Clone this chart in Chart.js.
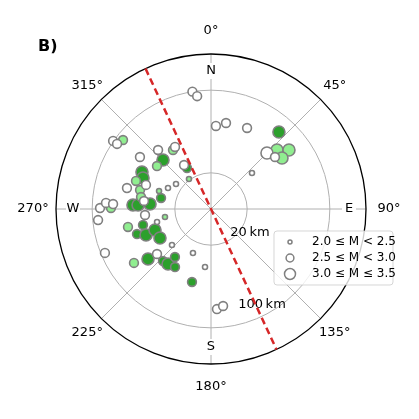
<!DOCTYPE html>
<html>
<head>
<meta charset="utf-8">
<script src="https://cdn.jsdelivr.net/npm/chart.js@4"></script>
<style>
  html, body { margin: 0; padding: 0; background: #fff; }
  #wrap { width: 419px; height: 419px; }
</style>
</head>
<body>
<div id="wrap"><canvas id="polarChart" width="419" height="419"></canvas></div>
<script>
// Datos de los sismos: azimut (grados desde el N), distancia (km), magnitud, grupo
const azimut = [351, 353, 3.4, 9.9, 24, 41.4, 45, 50.9, 48.2, 52.9, 54.3, 48.7,
    304.8, 304.7, 308.1, 306.2, 318.1, 329.9, 327.2, 315.6, 308.5, 329.7, 328.5, 323.7,
    305.5, 296, 289.1, 282.4, 298.2, 294.5, 290.5, 290.3, 284, 285, 279.7, 276.8,
    272.9, 273.1, 274.7, 270.5, 273.3, 272.9, 270.6, 264.4, 264.8, 260.1, 257.8, 251.3,
    256.8, 248.2, 249.4, 256.5, 240.4, 227.3, 247.5, 235, 231.6, 230.2, 222.7, 218,
    216.9, 211.8, 202.3, 185.9, 194.6, 176.6, 172.9];
const distanciaKm = [100, 95, 65.5, 69.5, 70.8, 84.4, 61.6, 64.8, 70.7, 79.6, 69.6, 37.8,
    100.4, 95.6, 93.2, 70.2, 61.7, 54.4, 52.9, 51.4, 51.8, 31, 34.9, 21,
    26.6, 31.3, 38.2, 34.5, 60.8, 57.3, 62.5, 52.1, 68.8, 56.1, 53.7, 50.3,
    60.6, 55.7, 44.2, 92.4, 86.8, 79.9, 81.8, 94.8, 49.1, 30.2, 67.2, 60.6,
    52.6, 52.7, 42.9, 38.7, 41.8, 36.4, 96.1, 76, 62.8, 53, 53.5, 52.5,
    43.1, 51.1, 31, 41.4, 58, 82, 79.6];
const magnitud = [2.7, 2.7, 2.7, 2.7, 2.7, 3.2, 3.2, 2.7, 3.2, 3.2, 3.2, 2.2,
    2.7, 2.7, 2.7, 2.7, 2.7, 2.7, 2.7, 3.2, 2.7, 2.8, 2.7, 2.2,
    2.2, 2.2, 2.3, 2.8, 3.2, 3.2, 2.7, 2.7, 2.7, 2.7, 2.7, 2.7,
    3.2, 3.2, 3.3, 2.7, 2.7, 2.7, 2.7, 2.7, 2.7, 2.3, 2.7, 2.8,
    2.8, 3.2, 3.3, 2.2, 3.3, 2.2, 2.7, 2.7, 3.3, 2.7, 2.8, 3.2,
    2.8, 2.8, 2.2, 2.2, 2.8, 2.7, 2.7];
const grupo = ['n', 'n', 'n', 'n', 'n', 'o', 'n', 'n', 'c', 'c', 'c', 'n',
    'n', 'n', 'c', 'n', 'n', 'n', 'c', 'o', 'c', 'o', 'n', 'c',
    'n', 'n', 'c', 'o', 'o', 'o', 'c', 'n', 'n', 'c', 'c', 'n',
    'o', 'o', 'o', 'n', 'n', 'n', 'c', 'n', 'n', 'c', 'c', 'o',
    'o', 'o', 'o', 'n', 'o', 'n', 'n', 'c', 'o', 'n', 'o', 'o',
    'o', 'o', 'n', 'n', 'o', 'n', 'n'];

// Etiquetas de ejes y anillos
const angulosGrados = [0, 45, 90, 135, 180, 225, 270, 315];
const puntosCardinales = ['N', 'E', 'S', 'W'];
const anillosKm = [20, 100];
const leyendaTextos = ['2.0 \u2264 M < 2.5', '2.5 \u2264 M < 3.0', '3.0 \u2264 M \u2264 3.5'];
const leyendaMagnitudes = [2.2, 2.7, 3.2];
const azimutFalla = 335;

const ORIGEN_R = 15;     // desplazamiento del origen radial (km)
const R_MAX = 135;       // distancia máxima (km)
const LIM = R_MAX + ORIGEN_R;

const colores = { n: '#ffffff', c: '#90ee90', o: '#2ca02c' };
const BORDE = '#808080';

function radioPorMagnitud(m) {
    if (m < 2.5) return 2.5;
    if (m < 3.0) return 4.4;
    return 6;
}

function aXY(az, d) {
    const r = d + ORIGEN_R;
    const a = az * Math.PI / 180;
    return { x: r * Math.sin(a), y: r * Math.cos(a), m: 0 };
}

function crearDataset(g) {
    const datos = [];
    for (let i = 0; i < azimut.length; i++) {
        if (grupo[i] !== g) continue;
        const p = aXY(azimut[i], distanciaKm[i]);
        p.m = magnitud[i];
        datos.push(p);
    }
    return {
        data: datos,
        backgroundColor: colores[g],
        borderColor: BORDE,
        borderWidth: 1.6,
        pointRadius: ctx => radioPorMagnitud(ctx.raw ? ctx.raw.m : 2.7),
        pointHoverRadius: ctx => radioPorMagnitud(ctx.raw ? ctx.raw.m : 2.7)
    };
}

// Plugin para dibujar la rejilla polar y textos
const rejillaPolar = {
    id: 'rejillaPolar',
    beforeDatasetsDraw(chart) {
        const { ctx, scales } = chart;
        const cx = scales.x.getPixelForValue(0);
        const cy = scales.y.getPixelForValue(0);
        const esc = (scales.x.getPixelForValue(LIM) - cx) / LIM;
        const R = LIM * esc;
        ctx.save();
        // anillos
        ctx.strokeStyle = '#b0b0b0';
        ctx.lineWidth = 1;
        anillosKm.forEach(k => {
            ctx.beginPath();
            ctx.arc(cx, cy, (k + ORIGEN_R) * esc, 0, Math.PI * 2);
            ctx.stroke();
        });
        // radios
        angulosGrados.forEach(g => {
            const a = g * Math.PI / 180;
            ctx.beginPath();
            ctx.moveTo(cx, cy);
            ctx.lineTo(cx + R * Math.sin(a), cy - R * Math.cos(a));
            ctx.stroke();
        });
        // borde exterior
        ctx.strokeStyle = '#000';
        ctx.lineWidth = 1.3;
        ctx.beginPath();
        ctx.arc(cx, cy, R, 0, Math.PI * 2);
        ctx.stroke();

        ctx.fillStyle = '#000';
        ctx.font = '13px "DejaVu Sans"';
        ctx.textAlign = 'center';
        ctx.textBaseline = 'middle';
        // grados
        angulosGrados.forEach(g => {
            const a = g * Math.PI / 180;
            const rr = R + (g % 90 === 0 ? 23 : 20);
            ctx.fillText(g + '\u00b0', cx + rr * Math.sin(a), cy - rr * Math.cos(a));
        });
        // puntos cardinales con fondo blanco
        puntosCardinales.forEach((t, i) => {
            const a = i * Math.PI / 2;
            const px = cx + 138 * Math.sin(a);
            const py = cy - 138 * Math.cos(a);
            ctx.fillStyle = '#fff';
            ctx.fillRect(px - 7, py - 8, 14, 16);
            ctx.fillStyle = '#000';
            ctx.fillText(t, px, py);
        });
        // etiquetas de distancia
        ctx.fillText(anillosKm[0] + '\u2009km', cx + 39, cy + 24);
        ctx.fillText(anillosKm[1] + '\u2009km', cx + 51, cy + 96);
        // letra del panel
        ctx.font = 'bold 16px "DejaVu Sans"';
        ctx.textAlign = 'left';
        ctx.fillText('B)', 38, 47);
        ctx.restore();
    },
    afterDatasetsDraw(chart) {
        const { ctx, scales } = chart;
        const cx = scales.x.getPixelForValue(0);
        const cy = scales.y.getPixelForValue(0);
        const R = scales.x.getPixelForValue(LIM) - cx;
        const a = azimutFalla * Math.PI / 180;
        ctx.save();
        ctx.strokeStyle = '#d62728';
        ctx.lineWidth = 2.5;
        ctx.setLineDash([7, 4]);
        ctx.beginPath();
        ctx.moveTo(cx + R * Math.sin(a), cy - R * Math.cos(a));
        ctx.lineTo(cx - R * Math.sin(a), cy + R * Math.cos(a));
        ctx.stroke();
        ctx.setLineDash([]);

        // leyenda
        const lx = 274, ly = 231, lw = 119, lh = 54;
        ctx.globalAlpha = 0.8;
        ctx.fillStyle = '#fff';
        ctx.strokeStyle = '#cccccc';
        ctx.lineWidth = 1;
        ctx.beginPath();
        ctx.roundRect(lx, ly, lw, lh, 3);
        ctx.fill();
        ctx.stroke();
        ctx.globalAlpha = 1;
        ctx.font = '12px "DejaVu Sans"';
        ctx.textAlign = 'left';
        ctx.textBaseline = 'middle';
        leyendaTextos.forEach((t, i) => {
            const y = ly + 11 + i * 16;
            ctx.beginPath();
            ctx.arc(lx + 16, y, radioPorMagnitud(leyendaMagnitudes[i]) - 0.5, 0, Math.PI * 2);
            ctx.fillStyle = '#fff';
            ctx.fill();
            ctx.strokeStyle = BORDE;
            ctx.lineWidth = 1.5;
            ctx.stroke();
            ctx.fillStyle = '#000';
            ctx.fillText(t, lx + 38, y);
        });
        ctx.restore();
    }
};

new Chart(document.getElementById('polarChart').getContext('2d'), {
    type: 'scatter',
    data: {
        datasets: [crearDataset('n'), crearDataset('c'), crearDataset('o')]
    },
    options: {
        responsive: false,
        animation: false,
        layout: { padding: { left: 56, right: 53, top: 54, bottom: 55 } },
        scales: {
            x: { min: -LIM, max: LIM, display: false },
            y: { min: -LIM, max: LIM, display: false }
        },
        plugins: {
            legend: { display: false },
            tooltip: { enabled: false }
        }
    },
    plugins: [rejillaPolar]
});
</script>
</body>
</html>
